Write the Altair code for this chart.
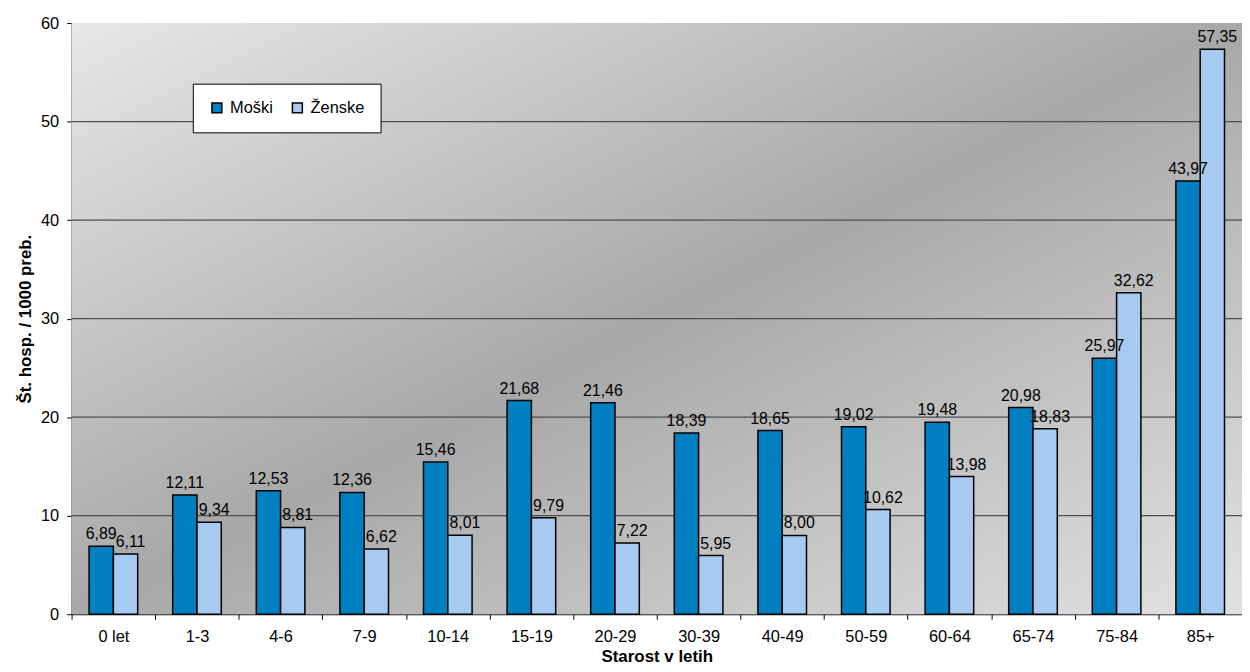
import altair as alt
import pandas as pd

categories = ["0 let", "1-3", "4-6", "7-9", "10-14", "15-19", "20-29", "30-39",
              "40-49", "50-59", "60-64", "65-74", "75-84", "85+"]
moski = [6.89, 12.11, 12.53, 12.36, 15.46, 21.68, 21.46, 18.39, 18.65, 19.02, 19.48, 20.98, 25.97, 43.97]
zenske = [6.11, 9.34, 8.81, 6.62, 8.01, 9.79, 7.22, 5.95, 8.00, 10.62, 13.98, 18.83, 32.62, 57.35]
series = ["Moški", "Ženske"]
colors = ["#0080c0", "#a6caf0"]
grid_values = [10, 20, 30, 40, 50]

rows = []
for c, m, z in zip(categories, moski, zenske):
    rows.append({"starost": c, "spol": "Moški", "v": m, "lbl": f"{m:.2f}".replace(".", ",")})
    rows.append({"starost": c, "spol": "Ženske", "v": z, "lbl": f"{z:.2f}".replace(".", ",")})
df = pd.DataFrame(rows)

W, H = 1178, 595
FONT = "Liberation Sans"
FS = 16

bg = alt.Chart(pd.DataFrame({"a": [0]})).mark_rect(
    fill=alt.LinearGradient(
        gradient="linear", x1=0, y1=0, x2=1, y2=1,
        stops=[alt.GradientStop(offset=0, color="#e8e8e8"),
               alt.GradientStop(offset=0.5, color="#a8a8a8"),
               alt.GradientStop(offset=1, color="#e2e2e2")]),
    stroke=None,
).encode(x=alt.value(0), x2=alt.value(W), y=alt.value(0), y2=alt.value(H))

grid = alt.Chart(pd.DataFrame({"g": grid_values})).mark_rule(
    color="#4e4e4e", strokeWidth=1.2
).encode(y=alt.Y("g:Q", scale=alt.Scale(domain=[0, 60], nice=False)))

xenc = alt.X("starost:N", sort=categories,
             scale=alt.Scale(paddingInner=0, paddingOuter=0),
             axis=alt.Axis(title="Starost v letih", labelAngle=0, tickBand="extent",
                           labelFontSize=16.5, labelPadding=9, tickSize=5, tickColor="black",
                           domainColor="black", titleFontSize=17, titleFontWeight="bold",
                           titlePadding=4, labelColor="black", titleColor="black"))
xoff = alt.XOffset("spol:N", sort=series, scale=alt.Scale(paddingInner=0, paddingOuter=0.72))
yenc = alt.Y("v:Q", scale=alt.Scale(domain=[0, 60], nice=False),
             axis=alt.Axis(title="Št. hosp. / 1000 preb.", values=[0, 10, 20, 30, 40, 50, 60],
                           grid=False, domainColor="black", tickColor="black", tickSize=5,
                           labelFontSize=16.5, labelPadding=8, titleFontSize=17,
                           titleFontWeight="bold", titlePadding=6,
                           labelColor="black", titleColor="black"))

bars = alt.Chart(df).mark_bar(stroke="black", strokeWidth=1.5).encode(
    x=xenc, xOffset=xoff, y=yenc,
    color=alt.Color("spol:N", sort=series,
                    scale=alt.Scale(domain=series, range=colors),
                    legend=alt.Legend(title=None, orient="none", legendX=122, legendY=61,
                                      direction="horizontal", symbolType="square",
                                      symbolSize=100, symbolStrokeColor="black",
                                      symbolStrokeWidth=1.5, labelFontSize=16.5,
                                      labelColor="black", labelOffset=5,
                                      columnPadding=16, padding=16,
                                      fillColor="white", strokeColor="black")),
)

text_m = alt.Chart(df).transform_filter(alt.datum.spol == "Moški").mark_text(
    baseline="bottom", dy=-4, fontSize=FS, color="black", font=FONT
).encode(x=alt.X("starost:N", sort=categories), xOffset=xoff, y=alt.Y("v:Q"), text="lbl:N")

text_z = alt.Chart(df).transform_filter(alt.datum.spol == "Ženske").mark_text(
    baseline="bottom", dy=-4, dx=5, fontSize=FS, color="black", font=FONT
).encode(x=alt.X("starost:N", sort=categories), xOffset=xoff, y=alt.Y("v:Q"), text="lbl:N")

chart = alt.layer(bg, grid, bars, text_m, text_z).properties(
    width=W, height=H,
    autosize=alt.AutoSizeParams(type="none"),
    padding={"left": 64, "top": 13, "right": 0, "bottom": 56},
).configure_view(stroke=None).configure(font=FONT)

chart.save("out.html", embed_options={"renderer": "svg", "actions": False})
